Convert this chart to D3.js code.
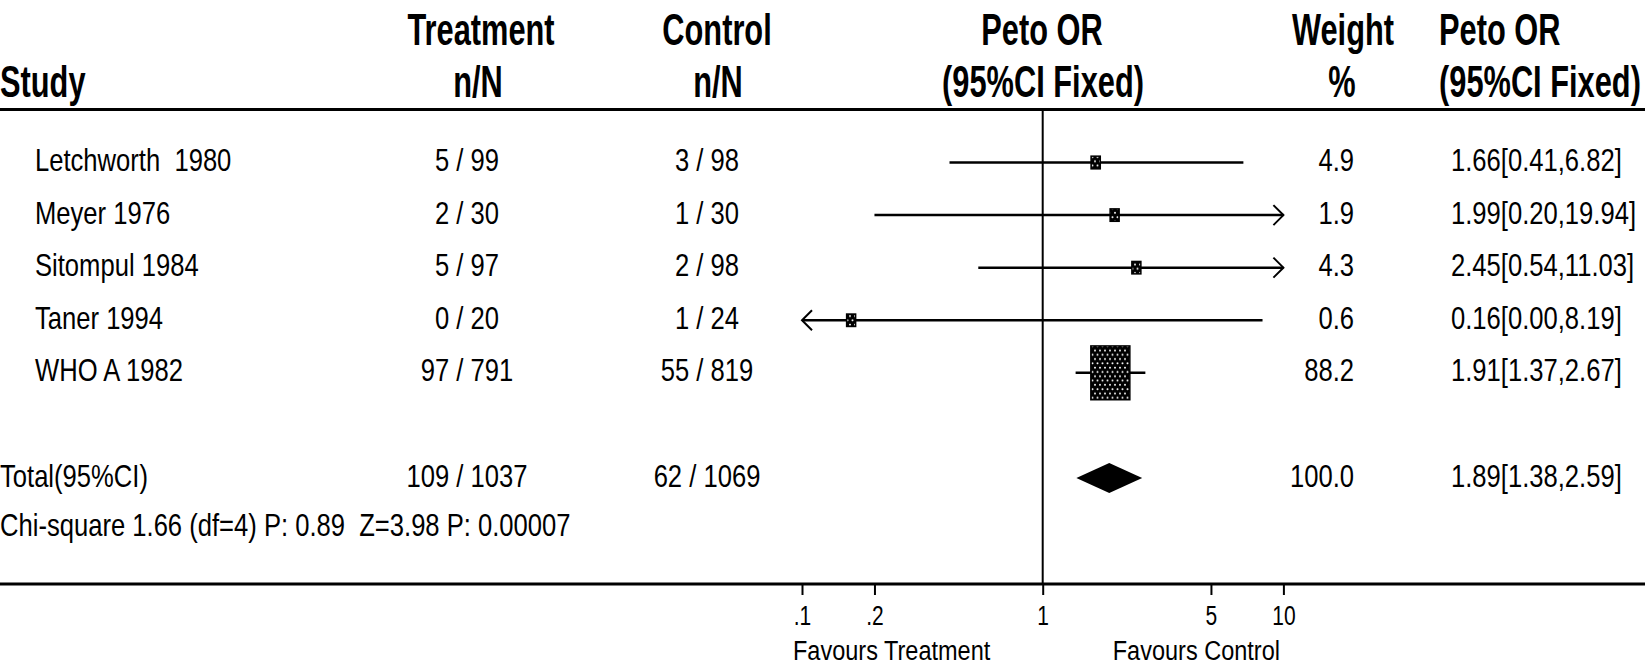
<!DOCTYPE html>
<html>
<head>
<meta charset="utf-8">
<script src="https://cdn.jsdelivr.net/npm/d3@7"></script>
<style>
  body { margin: 0; background: #fff; }
  svg { display: block; }
  text { font-family: "Liberation Sans", Arial, sans-serif; fill: #000; white-space: pre; }
</style>
</head>
<body>
<div id="chart"></div>
<script>
// study data
const studies = ["Letchworth  1980", "Meyer 1976", "Sitompul 1984", "Taner 1994", "WHO A 1982"];
const treatEvents = [5, 2, 5, 0, 97];
const treatTotal = [99, 30, 97, 20, 791];
const ctrlEvents = [3, 1, 2, 1, 55];
const ctrlTotal = [98, 30, 98, 24, 819];
const weights = [4.9, 1.9, 4.3, 0.6, 88.2];
const oddsRatio = [1.66, 1.99, 2.45, 0.16, 1.91];
const ciLow = [0.41, 0.20, 0.54, 0.00, 1.37];
const ciHigh = [6.82, 19.94, 11.03, 8.19, 2.67];

// pooled result
const totalLabel = "Total(95%CI)";
const totalTreat = [109, 1037];
const totalCtrl = [62, 1069];
const totalWeight = 100.0;
const totalOR = [1.89, 1.38, 2.59];
const hetText = "Chi-square 1.66 (df=4) P: 0.89  Z=3.98 P: 0.00007";

// axis
const tickValues = [0.1, 0.2, 1, 5, 10];
const tickLabels = [".1", ".2", "1", "5", "10"];
const favours = ["Favours Treatment", "Favours Control"];

const width = 1645;
const height = 667;

const svg = d3.select('#chart').append('svg').attr('width', width).attr('height', height);

// squeeze text horizontally around its anchor, the original uses a narrow bitmap font
function condense(sel, k) {
    sel.each(function () {
        const t = d3.select(this);
        const tx = +t.attr('x') || 0;
        const ty = +t.attr('y') || 0;
        t.attr('x', 0).attr('y', 0).attr('transform', `translate(${tx},${ty}) scale(${k},1)`);
    });
}

const x = d3.scaleLog().domain([0.1, 10]).range([802, 1283.4]).clamp(true);
const y = d3.scaleLinear().domain([0, 6]).range([162.5, 478]);
const boxSize = d3.scaleSqrt().domain([0, 88.2]).range([0, 39]);

const rows = studies.map((s, i) => ({
    name: s,
    treat: `${treatEvents[i]} / ${treatTotal[i]}`,
    ctrl: `${ctrlEvents[i]} / ${ctrlTotal[i]}`,
    weight: weights[i],
    or: oddsRatio[i], lo: ciLow[i], hi: ciHigh[i],
    i: i
}));

// dotted fill for the boxes
const defs = svg.append('defs');
const pat = defs.append('pattern').attr('id', 'dots')
    .attr('patternUnits', 'userSpaceOnUse').attr('width', 5).attr('height', 8.6);
pat.append('rect').attr('width', 5).attr('height', 8.6).attr('fill', '#000');
pat.append('circle').attr('cx', 2.5).attr('cy', 2.1).attr('r', 1).attr('fill', '#fff');
pat.append('circle').attr('cx', 0).attr('cy', 6.4).attr('r', 1).attr('fill', '#fff');
pat.append('circle').attr('cx', 5).attr('cy', 6.4).attr('r', 1).attr('fill', '#fff');

// header
const head = svg.append('g').attr('font-weight', 'bold').attr('font-size', 44);
const headCells = [
    { t: "Treatment", x: 481, y: 45, a: 'middle' },
    { t: "n/N", x: 478, y: 97, a: 'middle' },
    { t: "Control", x: 717, y: 45, a: 'middle' },
    { t: "n/N", x: 718, y: 97, a: 'middle' },
    { t: "Peto OR", x: 1042, y: 45, a: 'middle' },
    { t: "(95%CI Fixed)", x: 1043, y: 97, a: 'middle' },
    { t: "Weight", x: 1343, y: 45, a: 'middle' },
    { t: "%", x: 1342, y: 97, a: 'middle' },
    { t: "Peto OR", x: 1439, y: 45, a: 'start' },
    { t: "(95%CI Fixed)", x: 1439, y: 97, a: 'start' },
    { t: "Study", x: 0, y: 97, a: 'start' }
];
head.selectAll('text').data(headCells).enter().append('text')
    .attr('x', d => d.x).attr('y', d => d.y).attr('text-anchor', d => d.a)
    .text(d => d.t)
    .call(condense, 0.7);

// rules
svg.append('line').attr('x1', 0).attr('x2', width).attr('y1', 109.5).attr('y2', 109.5)
    .attr('stroke', '#000').attr('stroke-width', 3);
svg.append('line').attr('x1', 0).attr('x2', width).attr('y1', 584).attr('y2', 584)
    .attr('stroke', '#000').attr('stroke-width', 3);
svg.append('line').attr('x1', x(1)).attr('x2', x(1)).attr('y1', 110).attr('y2', 584)
    .attr('stroke', '#000').attr('stroke-width', 2);

// table text
const body = svg.append('g').attr('font-size', 32);
const rowG = body.selectAll('g.row').data(rows).enter().append('g').attr('class', 'row');
rowG.append('text').attr('x', 35).attr('y', d => y(d.i) + 8.5).text(d => d.name);
rowG.append('text').attr('x', 467).attr('y', d => y(d.i) + 8.5).attr('text-anchor', 'middle').text(d => d.treat);
rowG.append('text').attr('x', 707).attr('y', d => y(d.i) + 8.5).attr('text-anchor', 'middle').text(d => d.ctrl);
rowG.append('text').attr('x', 1354).attr('y', d => y(d.i) + 8.5).attr('text-anchor', 'end').text(d => d.weight.toFixed(1));
rowG.append('text').attr('x', 1451).attr('y', d => y(d.i) + 8.5)
    .text(d => `${d.or.toFixed(2)}[${d.lo.toFixed(2)},${d.hi.toFixed(2)}]`);

const tot = body.append('g');
tot.append('text').attr('x', 0).attr('y', y(6) + 8.5).text(totalLabel);
tot.append('text').attr('x', 467).attr('y', y(6) + 8.5).attr('text-anchor', 'middle').text(`${totalTreat[0]} / ${totalTreat[1]}`);
tot.append('text').attr('x', 707).attr('y', y(6) + 8.5).attr('text-anchor', 'middle').text(`${totalCtrl[0]} / ${totalCtrl[1]}`);
tot.append('text').attr('x', 1354).attr('y', y(6) + 8.5).attr('text-anchor', 'end').text(totalWeight.toFixed(1));
tot.append('text').attr('x', 1451).attr('y', y(6) + 8.5)
    .text(`${totalOR[0].toFixed(2)}[${totalOR[1].toFixed(2)},${totalOR[2].toFixed(2)}]`);
tot.append('text').attr('x', 0).attr('y', y(6.95) + 8.5).text(hetText);

body.selectAll('text').call(condense, 0.8);

// confidence intervals
const plot = svg.append('g');
plot.selectAll('line.ci').data(rows).enter().append('line').attr('class', 'ci')
    .attr('x1', d => x(Math.max(d.lo, 0.1))).attr('x2', d => x(d.hi))
    .attr('y1', d => y(d.i)).attr('y2', d => y(d.i))
    .attr('stroke', '#000').attr('stroke-width', 2.5);

// arrows where the interval runs off the scale
const arrows = [];
rows.forEach(d => {
    if (d.hi > 10) arrows.push({ x: x(10), y: y(d.i), dir: 1 });
    if (d.lo < 0.1) arrows.push({ x: x(0.1), y: y(d.i), dir: -1 });
});
plot.selectAll('path.arrow').data(arrows).enter().append('path').attr('class', 'arrow')
    .attr('d', d => `M${d.x - d.dir * 10},${d.y - 10}L${d.x},${d.y}L${d.x - d.dir * 10},${d.y + 10}`)
    .attr('fill', 'none').attr('stroke', '#000').attr('stroke-width', 2);

// weight boxes
plot.selectAll('rect.box').data(rows).enter().append('rect').attr('class', 'box')
    .each(function (d) {
        const w = Math.max(9, boxSize(d.weight));
        const h = w * 1.38;
        d3.select(this).attr('x', x(d.or) - w / 2).attr('y', y(d.i) - h / 2)
            .attr('width', w).attr('height', h);
    })
    .attr('fill', 'url(#dots)').attr('stroke', '#000').attr('stroke-width', 1.5);

// pooled diamond
const dy = y(6);
plot.append('path')
    .attr('d', `M${x(totalOR[1])},${dy}L${x(totalOR[0])},${dy - 15}L${x(totalOR[2])},${dy}L${x(totalOR[0])},${dy + 15}Z`)
    .attr('fill', '#000');

// bottom axis
const axis = svg.append('g').attr('transform', 'translate(0,584)')
    .call(d3.axisBottom(x).tickValues(tickValues).tickFormat((d, i) => tickLabels[i]).tickSize(11));
axis.select('.domain').remove();
axis.selectAll('.tick line').attr('stroke', '#000').attr('stroke-width', 2);
axis.selectAll('.tick text').attr('y', 41).attr('dy', 0).attr('fill', '#000')
    .attr('font-family', '"Liberation Sans", Arial, sans-serif').attr('font-size', 28)
    .call(condense, 0.75);

svg.append('text').attr('x', 793).attr('y', 660).attr('font-size', 28).text(favours[0]).call(condense, 0.84);
svg.append('text').attr('x', 1280).attr('y', 660).attr('font-size', 28).attr('text-anchor', 'end')
    .text(favours[1]).call(condense, 0.84);
</script>
</body>
</html>
